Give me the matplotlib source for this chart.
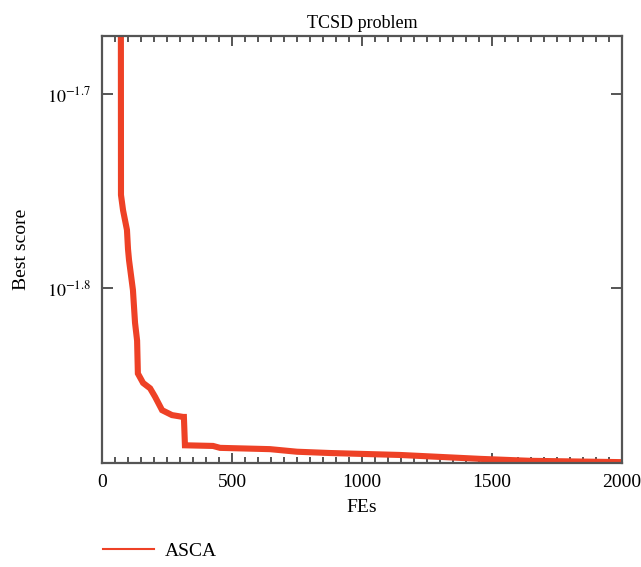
import math
import matplotlib
matplotlib.use("Agg")
import matplotlib.pyplot as plt
from matplotlib.ticker import FixedLocator, FuncFormatter, MultipleLocator, NullLocator
from matplotlib.lines import Line2D

plt.rcParams['font.family'] = ['Liberation Serif', 'DejaVu Serif']
plt.rcParams['mathtext.fontset'] = 'stix'

title = "TCSD problem"
xlabel = "FEs"
ylabel = "Best score"
series_name = "ASCA"

fes = [70, 72, 73, 81, 96, 100, 104, 119, 127, 135, 138, 158, 185, 204, 231, 269,
       312, 315, 319, 427, 454, 646, 750, 877, 1146, 1454, 1646, 1992, 2000]
best = [0.0300, 0.0300, 0.01770, 0.01738, 0.01698, 0.01660, 0.01638, 0.01581, 0.01521,
        0.01489, 0.01432, 0.01416, 0.01407, 0.01393, 0.01371, 0.01363, 0.01360,
        0.01360, 0.01315, 0.01314, 0.01311, 0.01309, 0.01305, 0.01303, 0.01300,
        0.01294, 0.01291, 0.01289, 0.01289]

xticks = [0, 500, 1000, 1500, 2000]
yticks_exp = [-1.8, -1.7]

color = '#EE4126'
spine_col = '#555555'

fig = plt.figure(figsize=(6.41, 5.67), dpi=100)
ax = fig.add_axes([102/641, 1-463/567, 520/641, 427/567])

ax.plot(fes, best, color=color, lw=4.4, solid_joinstyle='miter', solid_capstyle='butt')
ax.set_yscale('log')
ax.set_xlim(0, 2000)
ax.set_ylim(10**-1.8902, 10**-1.6701)

ax.xaxis.set_major_locator(FixedLocator(xticks))
ax.xaxis.set_minor_locator(MultipleLocator(50))
ax.yaxis.set_major_locator(FixedLocator([10**e for e in yticks_exp]))
ax.yaxis.set_minor_locator(NullLocator())
ax.yaxis.set_major_formatter(FuncFormatter(lambda v, p: r'$10^{%.1f}$' % math.log10(v)))
ax.xaxis.set_major_formatter(FuncFormatter(lambda v, p: '%d' % v))

for s in ax.spines.values():
    s.set_color(spine_col)
    s.set_linewidth(1.6)

ax.tick_params(axis='both', which='both', direction='in', top=True, right=True,
               color=spine_col, width=1.4, labelcolor='black')
ax.tick_params(axis='x', which='major', length=7, pad=8, labelsize=14)
ax.tick_params(axis='x', which='minor', length=4)
ax.tick_params(axis='y', which='major', length=8, pad=8, labelsize=13)

ax.set_title(title, fontsize=13, pad=6)
ax.set_xlabel(xlabel, fontsize=14, labelpad=6)
ax.set_ylabel(ylabel, fontsize=14, labelpad=12)

handle = Line2D([], [], color=color, lw=1.5)
fig.legend([handle], [series_name], loc='center left',
           bbox_to_anchor=(103/641, 1-551/567), frameon=False, fontsize=14,
           handlelength=2.6, handletextpad=0.6, borderpad=0, borderaxespad=0)

fig.savefig('out.png', dpi=100)
